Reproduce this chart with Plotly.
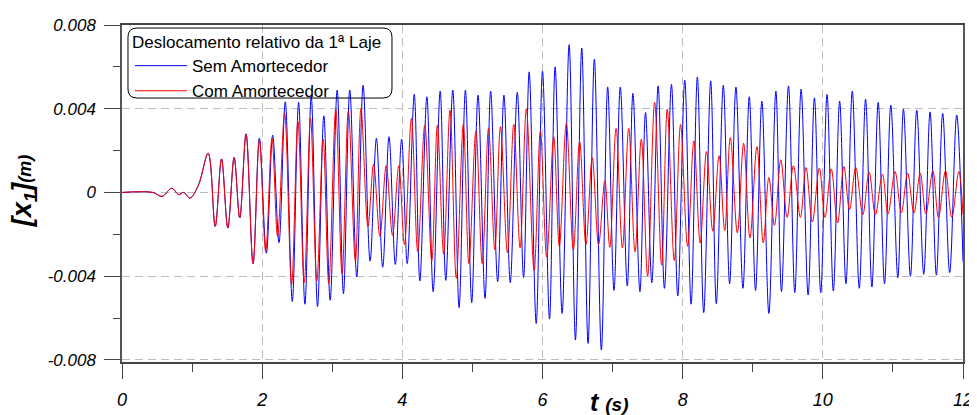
import plotly.graph_objects as go

# ---- data (extrema) ----
t_early = [0.0, 0.44, 0.57, 0.71, 0.81, 0.88, 0.97, 1.09, 1.23, 1.33, 1.42, 1.51, 1.60, 1.68, 1.77, 1.87]
x_early = [0.0, 0.0, -0.00019, 0.0002, -0.0001, 0.0, -0.00027, 0.00035, 0.00187, -0.00162, 0.0016, -0.0017,
           0.00167, -0.00122, 0.0028, -0.0034]

t_sem_late = [1.96, 2.06, 2.15, 2.24, 2.33, 2.43, 2.52, 2.61, 2.70, 2.79, 2.88, 2.97, 3.07, 3.16, 3.25, 3.35,
              3.44, 3.54, 3.63, 3.72, 3.81, 3.90, 3.99, 4.07, 4.17, 4.25, 4.35, 4.44, 4.54, 4.62, 4.72, 4.81,
              4.90, 4.99, 5.08, 5.18, 5.26, 5.36, 5.45, 5.54, 5.64, 5.73, 5.81, 5.91, 6.00, 6.10, 6.18, 6.28,
              6.38, 6.47, 6.56, 6.65, 6.74, 6.84, 6.93, 7.02, 7.11, 7.21, 7.29, 7.39, 7.47, 7.56, 7.65, 7.74,
              7.84, 7.93, 8.03, 8.12, 8.21, 8.30, 8.40, 8.48, 8.58, 8.67, 8.76, 8.86, 8.95, 9.04, 9.13, 9.23,
              9.33, 9.41, 9.51, 9.60, 9.69, 9.79, 9.88, 9.97, 10.06, 10.15, 10.24, 10.33, 10.42, 10.52, 10.61,
              10.70, 10.79, 10.88, 10.97, 11.07, 11.15, 11.25, 11.34, 11.44, 11.53, 11.62, 11.71, 11.81, 11.91,
              12.0]
x_sem_late = [0.0026, -0.0029, 0.00274, -0.0024, 0.00433, -0.00521, 0.0043, -0.00534, 0.0046, -0.00545,
              0.00366, -0.00515, 0.00489, -0.00483, 0.00489, -0.00404, 0.00512, -0.00328, 0.00259, -0.00357,
              0.00266, -0.00344, 0.00255, -0.0034, 0.00469, -0.00423, 0.00457, -0.00474, 0.00484, -0.0042,
              0.00489, -0.0055, 0.00489, -0.00526, 0.00465, -0.00506, 0.00484, -0.00426, 0.00465, -0.00431,
              0.00478, -0.00407, 0.00576, -0.00626, 0.00579, -0.00605, 0.006, -0.00578, 0.00706, -0.00705,
              0.0069, -0.00721, 0.00636, -0.00753, 0.00504, -0.00468, 0.00504, -0.00447, 0.00473, -0.00474,
              0.00382, -0.00431, 0.00509, -0.00458, 0.00516, -0.00495, 0.00536, -0.00534, 0.00552, -0.00574,
              0.00533, -0.00531, 0.00512, -0.00436, 0.00504, -0.00458, 0.00457, -0.00468, 0.00436, -0.00578,
              0.00484, -0.00474, 0.00509, -0.00478, 0.00493, -0.0049, 0.00452, -0.00478, 0.00468, -0.00471,
              0.00436, -0.00436, 0.00484, -0.00458, 0.00446, -0.00452, 0.0043, -0.00436, 0.00417, -0.00407,
              0.00398, -0.004, 0.00393, -0.00391, 0.00385, -0.00395, 0.00378, -0.00383, 0.0037, -0.0033]

t_com_late = [1.96, 2.05, 2.14, 2.22, 2.32, 2.42, 2.51, 2.60, 2.69, 2.78, 2.87, 2.95, 3.05, 3.14, 3.23, 3.33,
              3.41, 3.51, 3.59, 3.68, 3.77, 3.86, 3.95, 4.03, 4.13, 4.22, 4.32, 4.42, 4.50, 4.59, 4.68, 4.77,
              4.87, 4.95, 5.05, 5.14, 5.23, 5.32, 5.40, 5.50, 5.59, 5.68, 5.77, 5.88, 5.97, 6.06, 6.16, 6.24,
              6.34, 6.44, 6.53, 6.62, 6.71, 6.80, 6.89, 6.96, 7.05, 7.14, 7.23, 7.32, 7.41, 7.50, 7.60, 7.70,
              7.78, 7.88, 7.97, 8.07, 8.16, 8.25, 8.34, 8.43, 8.52, 8.60, 8.68, 8.78, 8.87, 8.96, 9.06, 9.15,
              9.23, 9.31, 9.40, 9.49, 9.58, 9.68, 9.76, 9.85, 9.95, 10.03, 10.12, 10.21, 10.30, 10.38, 10.47,
              10.57, 10.66, 10.75, 10.85, 10.93, 11.03, 11.12, 11.21, 11.30, 11.39, 11.47, 11.57, 11.65, 11.75,
              11.84, 11.94, 12.0]
x_com_late = [0.0025, -0.0028, 0.0026, -0.0021, 0.00378, -0.0044, 0.0034, -0.0043, 0.00354, -0.00423,
              0.00255, -0.00436, 0.00398, -0.0039, 0.00389, -0.00328, 0.0040, -0.00162, 0.00135, -0.0021,
              0.00128, -0.00205, 0.00128, -0.00249, 0.00354, -0.00284, 0.00322, -0.00328, 0.00322, -0.00295,
              0.00393, -0.0041, 0.00325, -0.0034, 0.00293, -0.0034, 0.00306, -0.00273, 0.00314, -0.00288,
              0.00325, -0.00265, 0.00398, -0.00372, 0.00293, -0.00309, 0.00266, -0.00257, 0.0033, -0.00273,
              0.00243, -0.00249, 0.00167, -0.00249, 0.00056, -0.00262, 0.00306, -0.00265, 0.00306, -0.00284,
              0.00255, -0.004, 0.0043, -0.00347, 0.00398, -0.00325, 0.00325, -0.00257, 0.00246, -0.00241,
              0.00195, -0.00185, 0.00176, -0.00182, 0.00262, -0.00193, 0.00235, -0.00217, 0.00219, -0.00241,
              0.00071, -0.00157, 0.00156, -0.00119, 0.00128, -0.00119, 0.00119, -0.00141, 0.00116, -0.00119,
              0.00113, -0.00146, 0.00124, -0.00082, 0.00119, -0.00106, 0.00097, -0.00106, 0.00088, -0.00103,
              0.001, -0.00098, 0.00092, -0.00098, 0.00092, -0.00103, 0.00103, -0.00119, 0.00103, -0.00119,
              0.001, -0.00106]

x_ticks = [0, 2, 4, 6, 8, 10, 12]
x_ticklabels = ["0", "2", "4", "6", "8", "10", "12"]
y_ticks = [-0.008, -0.004, 0, 0.004, 0.008]
y_ticklabels = ["-0.008", "-0.004", "0", "0.004", "0.008"]

legend_title = "Deslocamento relativo da 1ª Laje"
name_sem = "Sem Amortecedor"
name_com = "Com Amortecedor"

FONT = "Arial, Liberation Sans, sans-serif"

t_sem = t_early + t_sem_late
x_sem = x_early + x_sem_late
t_com = t_early + t_com_late
x_com = x_early + x_com_late

fig = go.Figure()
fig.add_trace(go.Scatter(x=t_sem, y=x_sem, mode="lines", name=name_sem,
                         line=dict(color="#0000ff", width=1, shape="spline", smoothing=1.0)))
fig.add_trace(go.Scatter(x=t_com, y=x_com, mode="lines", name=name_com,
                         line=dict(color="#ff0000", width=1, shape="spline", smoothing=1.0)))

# page body has an 8px margin, so the figure is shrunk by 8px and margins shifted accordingly
fig.update_layout(
    width=969, height=407,
    margin=dict(l=114, r=14, t=17, b=53),
    plot_bgcolor="white", paper_bgcolor="white",
    font=dict(family=FONT, color="black"),
    showlegend=True,
    legend=dict(
        x=0.0095, y=0.997, xanchor="left", yanchor="top",
        bgcolor="rgba(0,0,0,0)", borderwidth=0,
        title=dict(text=legend_title, font=dict(size=17, family=FONT)),
        font=dict(size=17, family=FONT),
        tracegroupgap=0, itemwidth=52,
    ),
    xaxis=dict(
        range=[0, 12], tickvals=x_ticks, ticktext=x_ticklabels, automargin=False,
        tickfont=dict(size=18, family=FONT, style="italic"),
        showline=True, linecolor="#444", linewidth=1.5, mirror=True,
        ticks="outside", ticklen=15, tickcolor="#444", ticklabelstandoff=6,
        showgrid=True, gridcolor="#bdbdbd", griddash="8px,5px", gridwidth=1,
        zeroline=False,
        minor=dict(dtick=1, tick0=0, ticks="outside", ticklen=8, tickcolor="#444", showgrid=False),
    ),
    yaxis=dict(
        range=[-0.0081, 0.0080], tickvals=y_ticks, ticktext=y_ticklabels, automargin=False,
        tickfont=dict(size=17, family=FONT, style="italic"),
        showline=True, linecolor="#555", linewidth=1.5, mirror=True,
        ticks="outside", ticklen=16, tickcolor="#444", ticklabelstandoff=5,
        showgrid=True, gridcolor="#bdbdbd", griddash="8px,5px", gridwidth=1,
        zeroline=False,
        minor=dict(dtick=0.002, tick0=0, ticks="outside", ticklen=7, tickcolor="#444", showgrid=False),
    ),
)

# rounded legend frame (pixel-sized, anchored at the legend's top-left)
w, h, r = 264, 70, 9
path = (f"M {r},0 L {w-r},0 Q {w},0 {w},{-r} L {w},{-h+r} Q {w},{-h} {w-r},{-h} "
        f"L {r},{-h} Q 0,{-h} 0,{-h+r} L 0,{-r} Q 0,0 {r},0 Z")
fig.add_shape(type="path", xref="paper", yref="paper", xsizemode="pixel", ysizemode="pixel",
              xanchor=0.0071, yanchor=0.991, path=path,
              line=dict(color="black", width=1), fillcolor="rgba(0,0,0,0)")

# axis titles
fig.add_annotation(xref="paper", yref="paper", x=-0.1165, y=0.507, xanchor="center", yanchor="middle",
                   text="<b><i>[x<sub>1</sub>]<span style='font-size:18px'>(m)</span></i></b>",
                   textangle=-90, showarrow=False, font=dict(size=27, family=FONT))
fig.add_annotation(xref="paper", yref="paper", x=0.58, y=-0.119, xanchor="center", yanchor="middle",
                   text="<b><i>t <span style='font-size:19px'>(s)</span></i></b>",
                   showarrow=False, font=dict(size=25, family=FONT))

fig.write_html("out.html")
